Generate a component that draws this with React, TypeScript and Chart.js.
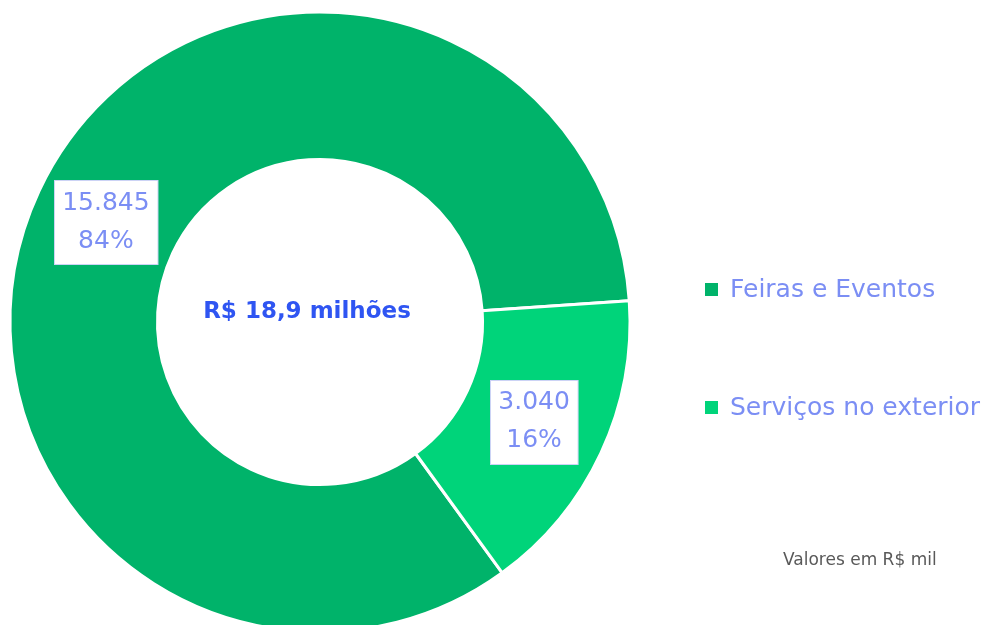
import React, { useEffect, useRef } from "react";
import { Chart, registerables } from "chart.js";

Chart.register(...registerables);

const categories = ["Feiras e Eventos", "Serviços no exterior"];
const values = [15845, 3040];
const valueLabels = ["15.845", "3.040"];
const percentLabels = ["84%", "16%"];
const colors = ["#00B36A", "#00D47A"];
const centerText = "R$ 18,9 milhões";
const noteText = "Valores em R$ mil";

const labelColor = "#7B8EF4";

const labelPlugin = {
  id: "boxLabels",
  afterDatasetsDraw(chart: any) {
    const ctx = chart.ctx;
    const meta = chart.getDatasetMeta(0);
    ctx.save();
    ctx.font = "25px 'DejaVu Sans'";
    ctx.textAlign = "center";
    ctx.textBaseline = "middle";
    meta.data.forEach((arc: any, i: number) => {
      const p = arc.tooltipPosition(true);
      const l1 = valueLabels[i];
      const l2 = percentLabels[i];
      const w = Math.max(ctx.measureText(l1).width, ctx.measureText(l2).width) + 16;
      const h = 84;
      const x0 = Math.round(p.x - w / 2) + 0.5;
      const y0 = Math.round(p.y - h / 2) + 0.5;
      ctx.fillStyle = "#FFFFFF";
      ctx.fillRect(x0, y0, w, h);
      ctx.strokeStyle = "#CCD3F5";
      ctx.lineWidth = 1;
      ctx.strokeRect(x0, y0, w, h);
      ctx.fillStyle = labelColor;
      ctx.fillText(l1, p.x, p.y - 19);
      ctx.fillText(l2, p.x, p.y + 19);
    });
    ctx.restore();
  },
};

export default function App() {
  const ref = useRef<HTMLCanvasElement>(null);
  useEffect(() => {
    const chart = new Chart(ref.current as HTMLCanvasElement, {
      type: "doughnut",
      data: {
        labels: categories,
        datasets: [
          {
            data: values,
            backgroundColor: colors,
            borderColor: "#FFFFFF",
            borderWidth: 3,
          },
        ],
      },
      options: {
        responsive: false,
        animation: false,
        rotation: 144,
        radius: 310,
        cutout: 167,
        layout: { padding: { left: 0, top: 0, right: 348, bottom: 16 } },
        plugins: {
          legend: { display: false },
          tooltip: { enabled: false },
        },
      },
      plugins: [labelPlugin],
    });
    return () => chart.destroy();
  }, []);

  const legendRow = (i: number, top: number) => (
    <div
      key={i}
      style={{
        position: "absolute",
        left: 705,
        top: top,
        height: 30,
        display: "flex",
        alignItems: "center",
        whiteSpace: "nowrap",
      }}
    >
      <div style={{ width: 13, height: 13, background: colors[i], marginRight: 12 }} />
      <span style={{ font: "25px 'DejaVu Sans'", color: labelColor, lineHeight: "30px" }}>
        {categories[i]}
      </span>
    </div>
  );

  return (
    <div
      style={{
        position: "fixed",
        left: 0,
        top: 0,
        width: 988,
        height: 660,
        background: "#FFFFFF",
        overflow: "hidden",
      }}
    >
      <canvas ref={ref} width={988} height={660} style={{ position: "absolute", left: 0, top: 0 }} />
      <div
        style={{
          position: "absolute",
          left: 0,
          width: 614,
          top: 297,
          lineHeight: "30px",
          textAlign: "center",
          font: "bold 23px 'DejaVu Sans'",
          color: "#2F55F2",
          whiteSpace: "nowrap",
        }}
      >
        {centerText}
      </div>
      {legendRow(0, 274)}
      {legendRow(1, 392)}
      <div
        style={{
          position: "absolute",
          left: 783,
          top: 549,
          lineHeight: "20px",
          font: "17px 'DejaVu Sans'",
          color: "#595959",
          whiteSpace: "nowrap",
        }}
      >
        {noteText}
      </div>
    </div>
  );
}
